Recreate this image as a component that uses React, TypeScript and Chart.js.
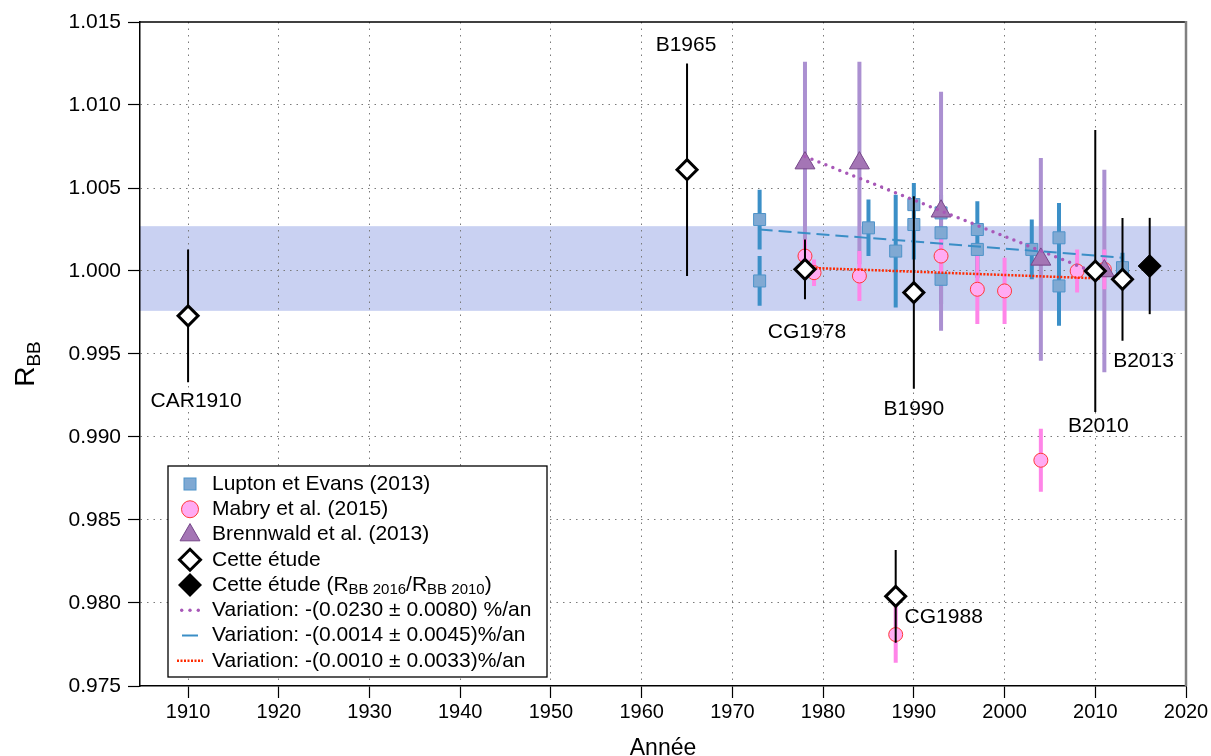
import React, { useEffect, useRef } from 'react';
import { Chart, registerables } from 'chart.js';

Chart.register(...registerables);

// ---------------- data ----------------
const xTickValues = [1910, 1920, 1930, 1940, 1950, 1960, 1970, 1980, 1990, 2000, 2010, 2020];
const yTickValues = [0.975, 0.98, 0.985, 0.99, 0.995, 1.0, 1.005, 1.01, 1.015];

const luptonYears = [1973, 1973, 1985, 1988, 1990, 1990, 1993, 1993, 1993, 1997, 1997, 2003, 2006, 2006, 2013];
const luptonValues = [1.0031, 0.9994, 1.0026, 1.0012, 1.004, 1.0028, 1.0035, 1.0023, 0.9995, 1.0025, 1.0013, 1.0013, 1.002, 0.9991, 1.0002];
const luptonErrors = [0.0018, 0.0015, 0.0017, 0.0034, 0.0013, 0.0021, 0.0011, 0.0015, 0.0015, 0.0017, 0.0017, 0.0018, 0.0021, 0.0024, 0.0009];

const mabryYears = [1978, 1979, 1984, 1988, 1993, 1997, 2000, 2004, 2008, 2011];
const mabryValues = [1.0009, 0.9999, 0.9997, 0.9781, 1.0009, 0.9989, 0.9988, 0.9886, 1.0, 1.0001];
const mabryErrors = [0.001, 0.0008, 0.0015, 0.0017, 0.0015, 0.0021, 0.002, 0.0019, 0.0013, 0.0012];

const brennwaldYears = [1978, 1984, 1993, 2004, 2011];
const brennwaldValues = [1.0065, 1.0065, 1.0036, 1.0007, 1.0];
const brennwaldErrors = [0.0061, 0.0061, 0.0072, 0.0061, 0.0061];

const etudeYears = [1910, 1965, 1978, 1988, 1990, 2010, 2013];
const etudeValues = [0.9973, 1.0061, 1.0001, 0.9804, 0.9987, 1.0, 0.9995];
const etudeErrors = [0.004, 0.0064, 0.0018, 0.0028, 0.0058, 0.0085, 0.0037];
const etudeLabels = ['CAR1910', 'B1965', 'CG1978', 'CG1988', 'B1990', 'B2010', 'B2013'];

const ratioYears = [2016];
const ratioValues = [1.0003];
const ratioErrors = [0.0029];

const bandRange = [0.9976, 1.0027];

const trendBrennwaldYears = [1978, 2010];
const trendBrennwaldValues = [1.0069, 0.9999];
const trendLuptonYears = [1973, 2013];
const trendLuptonValues = [1.0025, 1.0008];
const trendMabryYears = [1978, 2010.5];
const trendMabryValues = [1.0002, 0.99955];

const legendTexts = [
  'Lupton et Evans (2013)',
  'Mabry et al. (2015)',
  'Brennwald et al. (2013)',
  'Cette étude',
  'Cette étude (R_{BB 2016}/R_{BB 2010})',
  'Variation: -(0.0230 ± 0.0080) %/an',
  'Variation: -(0.0014 ± 0.0045)%/an',
  'Variation: -(0.0010 ± 0.0033)%/an',
];

// ---------------- styles / layout ----------------
const FONT = "'Liberation Sans', Arial, Helvetica, sans-serif";
const C = {
  blueFill: '#80a9d3', blueBorder: '#4e93c9', blueBar: '#3b8fc7',
  pinkFill: '#ffabf3', pinkBorder: '#ff3a3a', pinkBar: '#ff85e8',
  purpleFill: '#a475b5', purpleBorder: '#76478a', purpleBar: '#ab90d1',
  band: 'rgb(201,209,242)',
  purpleTrend: '#a858b8', blueTrend: '#3a8ec6', redTrend: '#ff2a00',
  grid: '#7a7a7a',
};
// label offsets in pixels from the matching point
const labelOffsets = [[8, 85], [-1, -125], [2, 63], [48, 21], [0, 117], [3, 155], [21, 82]];
const legendBox = { left: 168, top: 466, right: 547, bottom: 677 };
const legendRow0 = 484;
const legendRowStep = 25.25;
const legendSymX = 190;
const legendTextX = 212;

const pts = (xs: number[], ys: number[]) => xs.map((x, i) => ({ x, y: ys[i] }));

function drawBars(chart: any, d: any) {
  const { ctx, scales } = chart;
  const sx = scales.x, sy = scales.y;
  ctx.save();
  ctx.strokeStyle = d.errColor;
  ctx.lineWidth = d.errWidth;
  ctx.lineCap = 'butt';
  ctx.beginPath();
  d.data.forEach((p: any, i: number) => {
    const px = sx.getPixelForValue(p.x);
    ctx.moveTo(px, sy.getPixelForValue(p.y + d.errs[i]));
    ctx.lineTo(px, sy.getPixelForValue(p.y - d.errs[i]));
  });
  ctx.stroke();
  ctx.restore();
}

const bandPlugin = {
  id: 'band',
  beforeDraw(chart: any) {
    const { ctx, chartArea, scales } = chart;
    const y1 = scales.y.getPixelForValue(bandRange[1]);
    const y0 = scales.y.getPixelForValue(bandRange[0]);
    ctx.save();
    ctx.fillStyle = C.band;
    ctx.fillRect(chartArea.left, y1, chartArea.right - chartArea.left, y0 - y1);
    ctx.restore();
  },
};

const errorBarPlugin = {
  id: 'errorBars',
  beforeDatasetsDraw(chart: any) {
    chart.data.datasets
      .filter((d: any) => d.errs && !d.errOnTop)
      .sort((a: any, b: any) => a.errLayer - b.errLayer)
      .forEach((d: any) => drawBars(chart, d));
  },
  beforeDatasetDraw(chart: any, args: any) {
    const d = chart.data.datasets[args.index];
    if (d.errs && d.errOnTop) drawBars(chart, d);
  },
};

function drawRich(ctx: CanvasRenderingContext2D, text: string, x: number, y: number, size: number, subSize: number, subShift: number) {
  const parts = text.split(/(_\{[^}]*\})/).filter((s) => s.length);
  let cx = x;
  parts.forEach((p) => {
    const sub = p.startsWith('_{');
    const t = sub ? p.slice(2, -1) : p;
    ctx.font = `${sub ? subSize : size}px ${FONT}`;
    ctx.fillText(t, cx, y + (sub ? subShift : 0));
    cx += ctx.measureText(t).width;
  });
  return cx - x;
}

function diamond(ctx: CanvasRenderingContext2D, x: number, y: number, r: number) {
  ctx.beginPath();
  ctx.moveTo(x - r, y);
  ctx.lineTo(x, y - r);
  ctx.lineTo(x + r, y);
  ctx.lineTo(x, y + r);
  ctx.closePath();
}

const overlayPlugin = {
  id: 'overlay',
  afterDraw(chart: any) {
    const { ctx, chartArea, scales } = chart;
    const { left, right, top, bottom } = chartArea;
    ctx.save();
    // top + right borders
    ctx.strokeStyle = '#000';
    ctx.lineWidth = 1.5;
    ctx.beginPath();
    ctx.moveTo(left, top);
    ctx.lineTo(right, top);
    ctx.stroke();
    ctx.strokeStyle = '#808080';
    ctx.lineWidth = 2.5;
    ctx.beginPath();
    ctx.moveTo(right, top - 1);
    ctx.lineTo(right, bottom);
    ctx.stroke();

    // point labels
    ctx.fillStyle = '#000';
    ctx.font = `21px ${FONT}`;
    ctx.textAlign = 'center';
    ctx.textBaseline = 'middle';
    etudeLabels.forEach((t, i) => {
      const px = scales.x.getPixelForValue(etudeYears[i]);
      const py = scales.y.getPixelForValue(etudeValues[i]);
      ctx.fillText(t, px + labelOffsets[i][0], py + labelOffsets[i][1]);
    });

    // axis titles
    ctx.textAlign = 'center';
    ctx.textBaseline = 'alphabetic';
    ctx.font = `23px ${FONT}`;
    ctx.fillText('Année', (left + right) / 2, 755);

    ctx.save();
    ctx.translate(34, 364);
    ctx.rotate(-Math.PI / 2);
    ctx.textAlign = 'left';
    ctx.font = `28px ${FONT}`;
    const wR = ctx.measureText('R').width;
    ctx.font = `19px ${FONT}`;
    const wB = ctx.measureText('BB').width;
    drawRich(ctx, 'R_{BB}', -(wR + wB) / 2, 0, 28, 19, 6);
    ctx.restore();

    // legend
    const lb = legendBox;
    ctx.fillStyle = '#fff';
    ctx.fillRect(lb.left, lb.top, lb.right - lb.left, lb.bottom - lb.top);
    ctx.strokeStyle = '#000';
    ctx.lineWidth = 1.3;
    ctx.strokeRect(lb.left, lb.top, lb.right - lb.left, lb.bottom - lb.top);

    legendTexts.forEach((t, i) => {
      const y = legendRow0 + i * legendRowStep;
      const x = legendSymX;
      ctx.save();
      if (i === 0) {
        ctx.fillStyle = C.blueFill; ctx.strokeStyle = C.blueBorder; ctx.lineWidth = 1;
        ctx.fillRect(x - 6, y - 6, 12, 12); ctx.strokeRect(x - 6, y - 6, 12, 12);
      } else if (i === 1) {
        ctx.fillStyle = C.pinkFill; ctx.strokeStyle = C.pinkBorder; ctx.lineWidth = 1;
        ctx.beginPath(); ctx.arc(x, y, 8.5, 0, Math.PI * 2); ctx.fill(); ctx.stroke();
      } else if (i === 2) {
        const r = 11.5;
        ctx.fillStyle = C.purpleFill; ctx.strokeStyle = C.purpleBorder; ctx.lineWidth = 1;
        ctx.beginPath();
        ctx.moveTo(x, y - r * 0.95);
        ctx.lineTo(x + r * 0.866, y + r * 0.55);
        ctx.lineTo(x - r * 0.866, y + r * 0.55);
        ctx.closePath(); ctx.fill(); ctx.stroke();
      } else if (i === 3) {
        ctx.fillStyle = '#fff'; ctx.strokeStyle = '#000'; ctx.lineWidth = 3;
        diamond(ctx, x, y, 10.5); ctx.fill(); ctx.stroke();
      } else if (i === 4) {
        ctx.fillStyle = '#000';
        diamond(ctx, x, y, 12); ctx.fill();
      } else if (i === 5) {
        ctx.fillStyle = C.purpleTrend;
        [-8.3, 0, 8.3].forEach((dx) => { ctx.beginPath(); ctx.arc(x + dx, y, 1.7, 0, Math.PI * 2); ctx.fill(); });
      } else if (i === 6) {
        ctx.strokeStyle = C.blueTrend; ctx.lineWidth = 2;
        ctx.beginPath(); ctx.moveTo(x - 8, y); ctx.lineTo(x + 8, y); ctx.stroke();
      } else if (i === 7) {
        ctx.strokeStyle = C.redTrend; ctx.lineWidth = 2.5; ctx.setLineDash([2, 1.5]);
        ctx.beginPath(); ctx.moveTo(x - 13, y); ctx.lineTo(x + 13, y); ctx.stroke();
      }
      ctx.restore();
      ctx.fillStyle = '#000';
      ctx.textAlign = 'left';
      ctx.textBaseline = 'middle';
      drawRich(ctx, t, legendTextX, y, 21, 15, 5);
    });
    ctx.restore();
  },
};

const gridColor = (edges: number[]) => (c: any) =>
  c.tick && edges.some((e) => Math.abs(c.tick.value - e) < 1e-9) ? 'rgba(0,0,0,0)' : C.grid;

export default function App() {
  const ref = useRef<HTMLCanvasElement>(null);
  useEffect(() => {
    document.body.style.margin = '0';
    const chart = new Chart(ref.current as HTMLCanvasElement, {
      type: 'scatter',
      data: {
        datasets: [
          {
            label: 'Cette étude', data: pts(etudeYears, etudeValues), order: 0,
            pointStyle: 'rectRot', pointRadius: 10, pointHoverRadius: 10,
            backgroundColor: '#fff', borderColor: '#000', borderWidth: 3, pointHoverBorderWidth: 3,
            errs: etudeErrors, errColor: '#000', errWidth: 2, errOnTop: true,
          } as any,
          {
            label: 'Cette étude (ratio)', data: pts(ratioYears, ratioValues), order: 0,
            pointStyle: 'rectRot', pointRadius: 11.5, pointHoverRadius: 11.5,
            backgroundColor: '#000', borderColor: '#000', borderWidth: 1,
            errs: ratioErrors, errColor: '#000', errWidth: 2, errOnTop: true,
          } as any,
          {
            label: 'trend Mabry', data: pts(trendMabryYears, trendMabryValues), order: 1,
            showLine: true, pointRadius: 0, borderColor: C.redTrend, borderWidth: 2.5, borderDash: [2, 1.5],
          } as any,
          {
            label: 'trend Lupton', data: pts(trendLuptonYears, trendLuptonValues), order: 1,
            showLine: true, pointRadius: 0, borderColor: C.blueTrend, borderWidth: 2, borderDash: [13, 6],
          } as any,
          {
            label: 'trend Brennwald', data: pts(trendBrennwaldYears, trendBrennwaldValues), order: 1,
            showLine: true, pointRadius: 0, borderColor: C.purpleTrend, borderWidth: 3.5, borderDash: [0, 7.5],
            borderCapStyle: 'round',
          } as any,
          {
            label: 'Brennwald et al. (2013)', data: pts(brennwaldYears, brennwaldValues), order: 3,
            pointStyle: 'triangle', pointRadius: 11.5, pointHoverRadius: 11.5,
            backgroundColor: C.purpleFill, borderColor: C.purpleBorder, borderWidth: 1,
            errs: brennwaldErrors, errColor: C.purpleBar, errWidth: 4, errLayer: 2,
          } as any,
          {
            label: 'Mabry et al. (2015)', data: pts(mabryYears, mabryValues), order: 4,
            pointStyle: 'circle', pointRadius: 7, pointHoverRadius: 7,
            backgroundColor: C.pinkFill, borderColor: C.pinkBorder, borderWidth: 1,
            errs: mabryErrors, errColor: C.pinkBar, errWidth: 4, errLayer: 3,
          } as any,
          {
            label: 'Lupton et Evans (2013)', data: pts(luptonYears, luptonValues), order: 5,
            pointStyle: 'rect', pointRadius: 8.5, pointHoverRadius: 8.5,
            backgroundColor: C.blueFill, borderColor: C.blueBorder, borderWidth: 1,
            errs: luptonErrors, errColor: C.blueBar, errWidth: 4, errLayer: 1,
          } as any,
        ],
      },
      options: {
        animation: false,
        responsive: false,
        maintainAspectRatio: false,
        events: [],
        layout: { padding: { top: 22, right: 25, left: 0, bottom: 0 } },
        plugins: { legend: { display: false }, tooltip: { enabled: false } },
        scales: {
          x: {
            type: 'linear', min: 1904.7, max: 2020,
            afterBuildTicks: (s: any) => { s.ticks = xTickValues.map((v) => ({ value: v })); },
            afterFit: (s: any) => { s.height = 70; },
            ticks: { autoSkip: false, maxRotation: 0, color: '#000', padding: 2, font: { family: FONT, size: 20 }, callback: (v: any) => String(v) },
            grid: { color: gridColor([2020]), lineWidth: 1, tickLength: 12, tickColor: '#000', tickWidth: 1.2 },
            border: { display: true, color: '#000', width: 1.5, dash: [1.5, 5] },
          },
          y: {
            type: 'linear', min: 0.975, max: 1.015,
            afterBuildTicks: (s: any) => { s.ticks = yTickValues.map((v) => ({ value: v })); },
            afterFit: (s: any) => { s.width = 140; },
            ticks: { autoSkip: false, color: '#000', padding: 7, font: { family: FONT, size: 21 }, callback: (v: any) => Number(v).toFixed(3) },
            grid: { color: gridColor([0.975, 1.015]), lineWidth: 1, tickLength: 12, tickColor: '#000', tickWidth: 1.2 },
            border: { display: true, color: '#000', width: 1.5, dash: [1.5, 5] },
          },
        },
      } as any,
      plugins: [bandPlugin, errorBarPlugin, overlayPlugin],
    });
    return () => chart.destroy();
  }, []);
  return <canvas ref={ref} width={1211} height={756} style={{ display: 'block', width: 1211, height: 756 }} />;
}
